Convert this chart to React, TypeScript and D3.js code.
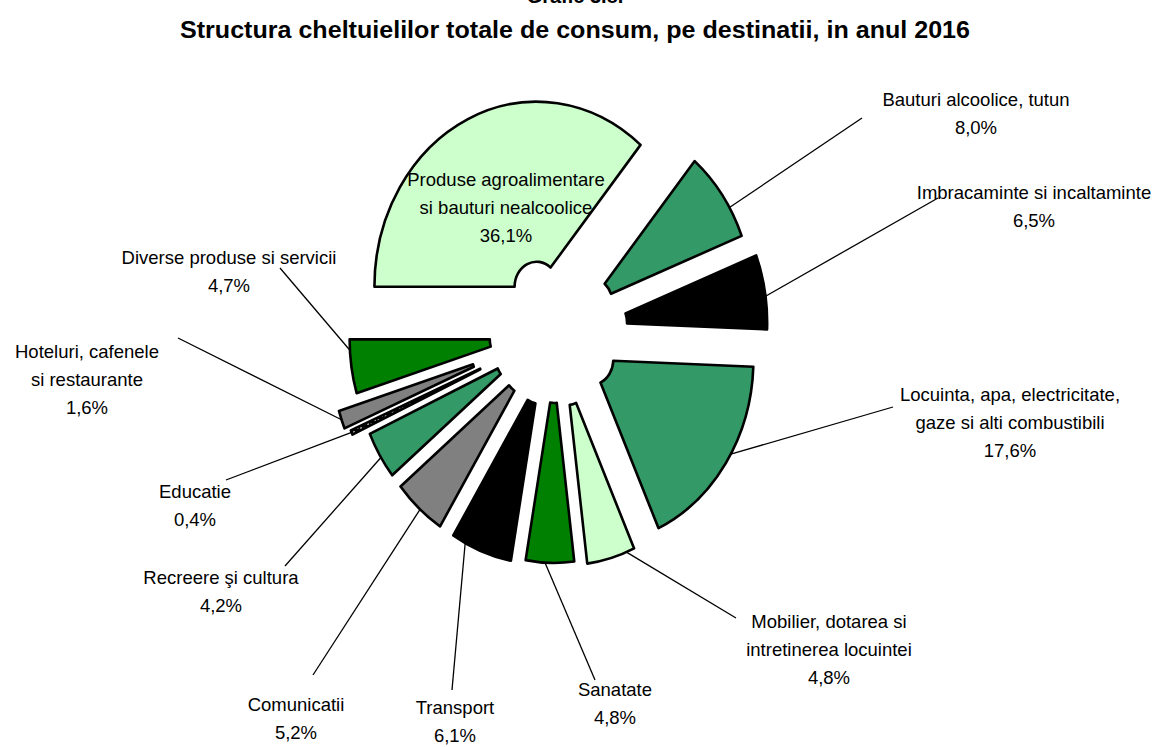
import React, { useEffect, useRef } from "react";
import { select, pie, arc } from "d3";

// categories (label lines), shares in %, slice colours
const categories = [
  ["Produse agroalimentare", "si bauturi nealcoolice"],
  ["Bauturi alcoolice, tutun"],
  ["Imbracaminte si incaltaminte"],
  ["Locuinta, apa, electricitate,", "gaze si alti combustibili"],
  ["Mobilier, dotarea si", "intretinerea locuintei"],
  ["Sanatate"],
  ["Transport"],
  ["Comunicatii"],
  ["Recreere şi cultura"],
  ["Educatie"],
  ["Hoteluri, cafenele", "si restaurante"],
  ["Diverse produse si servicii"],
];
const shares = [36.1, 8.0, 6.5, 17.6, 4.8, 4.8, 6.1, 5.2, 4.2, 0.4, 1.6, 4.7];
const fills = [
  "#ccffcc",
  "#339966",
  "#000000",
  "#339966",
  "#ccffcc",
  "#008000",
  "#000000",
  "#808080",
  "#339966",
  "url(#dots)",
  "#808080",
  "#008000",
];

// layout
const W = 1156;
const H = 747;
const cx = 555;
const cy = 332;
const sx = 0.876; // the original pie is squeezed horizontally
const outerR = 185;
const innerR = 25;
const explode = [50, 50, 58, 50, 50, 46, 50, 50, 50, 68, 74, 50];
const leaderFrac = [0, 0.66, 0.56, 0.45, 0.17, 0.6, 0.78, 0.47, 0.45, 0.5, 0.5, 0.8];
const labelAt = [
  [506, 186],
  [976, 106],
  [1034, 199],
  [1010, 401],
  [829, 628],
  [615, 696],
  [455, 714],
  [296, 711],
  [221, 584],
  [195, 498],
  [87, 358],
  [229, 264],
];
const leaderEnd = [
  null,
  [862, 118],
  [938, 198],
  [893, 407],
  [736, 618],
  [595, 680],
  [452, 690],
  [313, 675],
  [285, 566],
  [226, 480],
  [178, 338],
  [280, 268],
];
const lineGap = 28;
const font = "'Liberation Sans', Arial, sans-serif";

const fmt = (v: number) => v.toFixed(1).replace(".", ",") + "%";

const App = () => {
  const ref = useRef<SVGSVGElement>(null);

  useEffect(() => {
    const svg = select(ref.current);
    svg.selectAll("*").remove();

    const defs = svg.append("defs");
    const pat = defs
      .append("pattern")
      .attr("id", "dots")
      .attr("width", 4)
      .attr("height", 4)
      .attr("patternUnits", "userSpaceOnUse");
    pat.append("rect").attr("width", 4).attr("height", 4).attr("fill", "#000");
    pat.append("rect").attr("width", 2).attr("height", 2).attr("fill", "#999");

    svg.append("rect").attr("width", W).attr("height", H).attr("fill", "#fff");

    // figure number, cut at the top edge as in the original
    svg
      .append("text")
      .attr("x", 575)
      .attr("y", 3)
      .attr("text-anchor", "middle")
      .style("font", `bold 20px ${font}`)
      .text("Grafic 3.8.");

    svg
      .append("text")
      .attr("x", 575)
      .attr("y", 38)
      .attr("text-anchor", "middle")
      .attr("textLength", 790)
      .attr("lengthAdjust", "spacingAndGlyphs")
      .style("font", `bold 23px ${font}`)
      .text("Structura cheltuielilor totale de consum, pe destinatii, in anul 2016");

    const slices = pie<number>()
      .sort(null)
      .value((d) => d)
      .startAngle(-Math.PI / 2)
      .endAngle((3 * Math.PI) / 2)(shares);

    const arcGen = arc<any>().innerRadius(innerR).outerRadius(outerR);

    // point in page coordinates for an angle/radius of slice i (after explode)
    const toPage = (i: number, a: number, r: number) => {
      const s = slices[i];
      const mid = (s.startAngle + s.endAngle) / 2;
      const ux = explode[i] * Math.sin(mid) + r * Math.sin(a);
      const uy = -explode[i] * Math.cos(mid) - r * Math.cos(a);
      return [cx + ux * sx, cy + uy];
    };

    // leader lines
    const leaders = svg.append("g");
    slices.forEach((s, i) => {
      const end = leaderEnd[i];
      if (!end) return;
      const a = s.startAngle + leaderFrac[i] * (s.endAngle - s.startAngle);
      const [x1, y1] = toPage(i, a, outerR);
      leaders
        .append("line")
        .attr("x1", x1)
        .attr("y1", y1)
        .attr("x2", end[0])
        .attr("y2", end[1])
        .attr("stroke", "#000")
        .attr("stroke-width", 1.3);
    });

    // slices
    const pieG = svg
      .append("g")
      .attr("transform", `translate(${cx},${cy}) scale(${sx},1)`);
    pieG
      .selectAll("path")
      .data(slices)
      .enter()
      .append("path")
      .attr("transform", (d, i) => {
        const mid = (d.startAngle + d.endAngle) / 2;
        return `translate(${explode[i] * Math.sin(mid)},${-explode[i] * Math.cos(mid)})`;
      })
      .attr("d", arcGen)
      .attr("fill", (d, i) => fills[i])
      .attr("stroke", "#000")
      .attr("stroke-width", 2.6)
      .attr("stroke-linejoin", "round")
      .attr("vector-effect", "non-scaling-stroke");

    // labels
    const labels = svg.append("g").style("font", `18.5px ${font}`).attr("fill", "#000");
    categories.forEach((lines, i) => {
      const [x, y] = labelAt[i];
      const t = labels.append("text").attr("text-anchor", "middle");
      [...lines, fmt(shares[i])].forEach((ln, k) => {
        t.append("tspan")
          .attr("x", x)
          .attr("y", y + k * lineGap)
          .text(ln);
      });
    });
  }, []);

  return (
    <svg
      ref={ref}
      width={W}
      height={H}
      style={{ position: "absolute", left: 0, top: 0, display: "block" }}
    ></svg>
  );
};

export default App;
